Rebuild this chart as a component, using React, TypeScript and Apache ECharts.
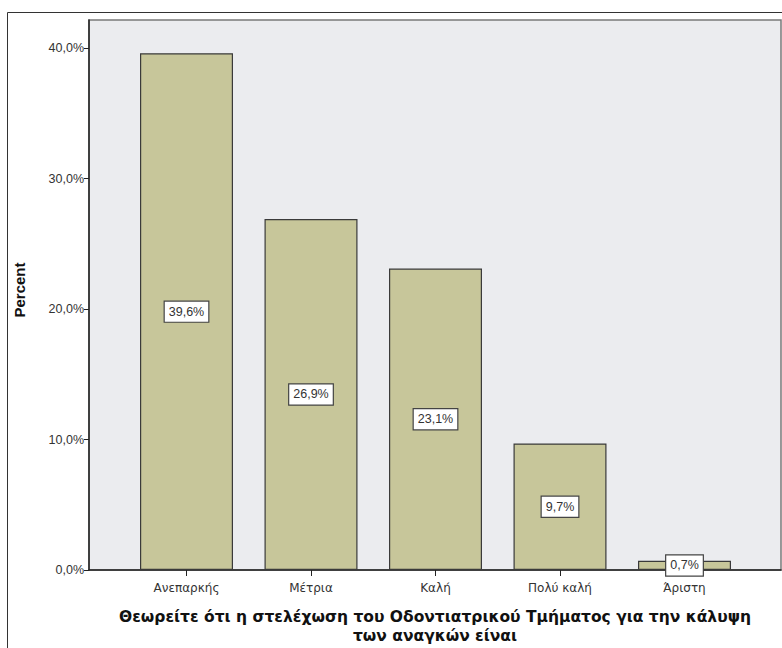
import React, { useEffect, useRef } from "react";
import * as echarts from "echarts";

const categories = ["Ανεπαρκής", "Μέτρια", "Καλή", "Πολύ καλή", "Άριστη"];
const percents = [39.6, 26.9, 23.1, 9.7, 0.7];
const yTicks = [0, 10, 20, 30, 40];
const yTitle = "Percent";
const xTitleLines = [
  "Θεωρείτε ότι η στελέχωση του Οδοντιατρικού Τμήματος για την κάλυψη",
  "των αναγκών είναι",
];

const fmt = (v: number) => v.toFixed(1).replace(".", ",") + "%";
const FONT = "'Liberation Sans', Arial, sans-serif";
const WIDE = "'DejaVu Sans', Verdana, sans-serif";
const YMAX = 42.15;

export default function App() {
  const ref = useRef<HTMLDivElement>(null);
  useEffect(() => {
    if (!ref.current) return;
    const chart = echarts.init(ref.current, undefined, { renderer: "svg" });
    chart.setOption({
      animation: false,
      backgroundColor: "#ffffff",
      textStyle: { fontFamily: FONT },
      grid: [
        {
          left: 89,
          top: 20,
          width: 692,
          height: 550,
          show: true,
          backgroundColor: "#EBECEF",
          borderColor: "#7a7a7a",
          borderWidth: 1.5,
        },
        { left: 124.25, top: 20, width: 622.5, height: 550, show: false },
      ],
      xAxis: [
        {
          gridIndex: 0,
          type: "value",
          min: 0,
          max: 1,
          axisLine: { show: true, onZero: false, lineStyle: { color: "#222", width: 1.5 } },
          axisTick: { show: false },
          axisLabel: { show: false },
          splitLine: { show: false },
        },
        {
          gridIndex: 1,
          type: "category",
          data: categories,
          axisLine: { show: false },
          axisTick: { show: true, alignWithLabel: true, length: 6, lineStyle: { color: "#222" } },
          axisLabel: { color: "#333", fontSize: 12, margin: 12, fontFamily: WIDE },
        },
      ],
      yAxis: [
        {
          gridIndex: 0,
          type: "value",
          min: 0,
          max: YMAX,
          interval: 10,
          axisLine: { show: true, lineStyle: { color: "#222", width: 1.5 } },
          axisTick: { show: true, length: 5, lineStyle: { color: "#222" }, customValues: yTicks },
          axisLabel: {
            color: "#333",
            fontSize: 12.5,
            margin: 5,
            fontFamily: FONT,
            customValues: yTicks,
            formatter: (v: number) => (yTicks.includes(v) ? fmt(v) : ""),
          },
          splitLine: { show: false },
        },
        { gridIndex: 1, type: "value", min: 0, max: YMAX, show: false },
      ],
      series: [
        {
          type: "bar",
          xAxisIndex: 1,
          yAxisIndex: 1,
          data: percents,
          barWidth: 93,
          itemStyle: { color: "#C7C69A", borderColor: "#3a3a3a", borderWidth: 1.2 },
          label: {
            show: true,
            position: "inside",
            formatter: (p: any) => fmt(p.value),
            backgroundColor: "#ffffff",
            borderColor: "#444",
            borderWidth: 1.2,
            padding: [4, 4, 3, 4],
            color: "#333",
            fontSize: 12.5,
            fontFamily: FONT,
          },
        },
      ],
      graphic: [
        {
          type: "rect",
          shape: { x: 7.5, y: 12.5, width: 900, height: 900 },
          style: { fill: "none", stroke: "#333", lineWidth: 1 },
          z: -10,
          silent: true,
        },
        {
          type: "text",
          x: 19,
          y: 290,
          rotation: Math.PI / 2,
          style: {
            text: yTitle,
            fill: "#111",
            font: `bold 15px ${FONT}`,
            textAlign: "center",
            textVerticalAlign: "middle",
          },
        },
        {
          type: "text",
          x: 435,
          y: 617,
          style: {
            text: xTitleLines[0],
            fill: "#111",
            font: `bold 15.5px ${WIDE}`,
            textAlign: "center",
            textVerticalAlign: "middle",
          },
        },
        {
          type: "text",
          x: 435,
          y: 636,
          style: {
            text: xTitleLines[1],
            fill: "#111",
            font: `bold 15.5px ${WIDE}`,
            textAlign: "center",
            textVerticalAlign: "middle",
          },
        },
      ],
    });
    return () => chart.dispose();
  }, []);
  return (
    <div
      ref={ref}
      style={{ position: "fixed", left: 0, top: 0, width: 782, height: 648 }}
    />
  );
}
